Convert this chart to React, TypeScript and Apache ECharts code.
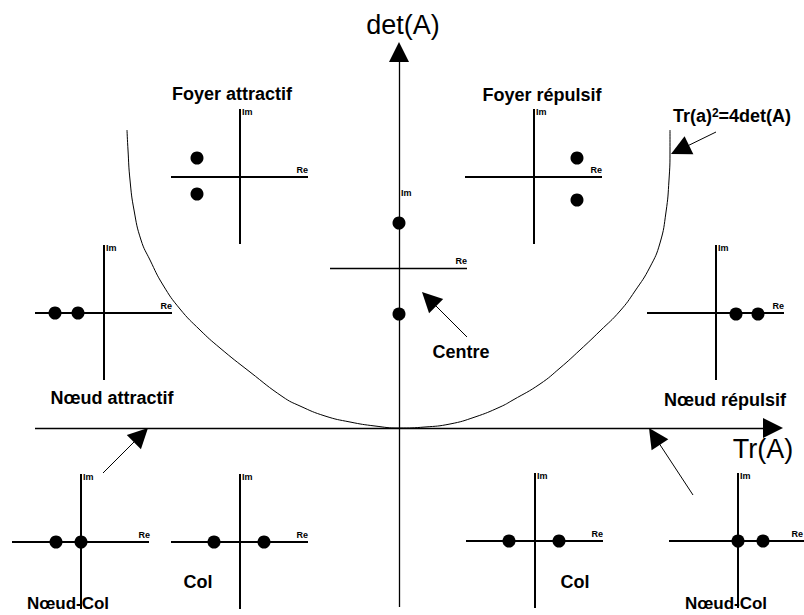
import React, { useEffect, useRef } from 'react';
import * as echarts from 'echarts';

const W = 804;
const H = 615;
const FONT = '"Liberation Sans", Arial, sans-serif';

// Regimes of the (Tr, det) plane
const regimeNames = ['Foyer attractif', 'Foyer répulsif', 'Centre', 'Nœud attractif', 'Nœud répulsif', 'Nœud-Col', 'Col', 'Col', 'Nœud-Col'];
// Eigenvalue positions in each small complex plane (Re, Im offsets from the origin)
const eigenRe = [[-43, -43], [43, 43], [0, 0], [-49, -26], [20, 42], [-25, 0], [-26, 24], [-26, 24], [0, 25]];
const eigenIm = [[19, -17], [19, -23], [45, -46], [0, 0], [-1, -1], [0, 0], [0, 0], [0, 0], [0, 0]];

// Curve Tr(A)^2 = 4 det(A) as drawn (page units)
const curveLeft = [[127, 130], [128, 150], [130, 180], [134, 210], [141, 240], [150, 260], [163, 285], [180, 309], [200, 330], [220, 348], [250, 372], [283, 397], [300, 406], [325, 416], [350, 422], [375, 426], [399, 428]];
const curveRight = [[425, 427], [450, 424], [475, 417], [500, 407], [513, 400], [540, 384], [560, 368], [580, 350], [600, 331], [620, 311], [635, 291], [650, 267], [660, 243], [666, 212], [669, 180], [670, 150], [670, 130]];

// Layout (page units)
const planeOrigin = [[240, 177], [534, 177], [399, 268], [104, 313], [716, 313], [81, 542], [240, 542], [535, 541], [738, 541]];
const reRight = [308, 602, 467, 172, 784, 150, 308, 603, 803];
const labelPos = [[232, 94], [542, 95], [461, 352], [112, 398], [725, 400], [68, 603], [198, 582], [575, 582], [726, 603]];
const labelSize = [18, 18, 18, 18, 18, 17, 18, 18, 17];
const mainAxes = [[[35, 428], [783, 428]], [[399, 607], [399, 42]]];
const pointers = [[[467, 337], [422, 292]], [[716, 132], [671, 154]], [[103, 473], [148, 428]], [[693, 495], [649, 428]]];

function shortenTo(tail: number[], tip: number[], len: number) {
  const dx = tip[0] - tail[0];
  const dy = tip[1] - tail[1];
  const d = Math.sqrt(dx * dx + dy * dy);
  return [tip[0] - (dx / d) * len, tip[1] - (dy / d) * len];
}

export default function App() {
  const ref = useRef<HTMLDivElement>(null);
  useEffect(() => {
    if (!ref.current) return;
    const chart = echarts.init(ref.current, null, { renderer: 'svg' });

    const planeLines: any[] = [];
    const centerLines: any[] = [];
    planeOrigin.forEach(([ox, oy], i) => {
      const h = { coords: [[ox - 69, oy], [ox + 68, oy]] };
      if (i === 2) {
        centerLines.push(h);
      } else {
        planeLines.push(h);
        planeLines.push({ coords: [[ox, oy - 68], [ox, oy + 67]] });
      }
    });

    const dots: number[][] = [];
    planeOrigin.forEach(([ox, oy], i) => {
      eigenRe[i].forEach((re, k) => dots.push([ox + re, oy - eigenIm[i][k]]));
    });

    const texts: any[] = [];
    planeOrigin.forEach(([ox, oy], i) => {
      texts.push({
        type: 'text', x: ox + 2, y: i === 2 ? oy - 75 : oy - 65, z: 100,
        style: { text: 'Im', fill: '#000', fontSize: 9, fontWeight: 'bold', fontFamily: FONT, align: 'left', verticalAlign: 'middle', textAlign: 'left', textVerticalAlign: 'middle' },
      });
      texts.push({
        type: 'text', x: reRight[i], y: oy - 7, z: 100,
        style: { text: 'Re', fill: '#000', fontSize: 9, fontWeight: 'bold', fontFamily: FONT, align: 'right', verticalAlign: 'middle', textAlign: 'right', textVerticalAlign: 'middle' },
      });
    });
    regimeNames.forEach((name, i) => {
      texts.push({
        type: 'text', x: labelPos[i][0], y: labelPos[i][1], z: 100,
        style: { text: name, fill: '#000', fontSize: labelSize[i], fontWeight: 'bold', fontFamily: FONT, align: 'center', verticalAlign: 'middle', textAlign: 'center', textVerticalAlign: 'middle' },
      });
    });
    texts.push({
      type: 'text', x: 732, y: 116, z: 100,
      style: {
        text: 'Tr(a){sup|2}=4det(A)', fill: '#000', fontSize: 18, fontWeight: 'bold', fontFamily: FONT,
        align: 'center', verticalAlign: 'middle', textAlign: 'center', textVerticalAlign: 'middle',
        rich: {
          sup: { fontSize: 12, fontWeight: 'bold', fontFamily: FONT, fill: '#000', verticalAlign: 'top', lineHeight: 12 },
        },
      },
    });
    texts.push({
      type: 'text', x: 403, y: 25, z: 100,
      style: { text: 'det(A)', fill: '#000', fontSize: 27, fontFamily: FONT, align: 'center', verticalAlign: 'middle', textAlign: 'center', textVerticalAlign: 'middle' },
    });
    texts.push({
      type: 'text', x: 763, y: 449, z: 100,
      style: { text: 'Tr(A)', fill: '#000', fontSize: 27, fontFamily: FONT, align: 'center', verticalAlign: 'middle', textAlign: 'center', textVerticalAlign: 'middle' },
    });

    const mainArrowLen = 20;
    const ptrArrowLen = 20;

    chart.setOption({
      animation: false,
      backgroundColor: '#fff',
      grid: { left: 0, right: 0, top: 0, bottom: 0, outerBoundsMode: 'none' },
      xAxis: { type: 'value', min: 0, max: W, show: false },
      yAxis: { type: 'value', min: 0, max: H, inverse: true, show: false },
      graphic: texts,
      series: [
        {
          type: 'line', data: [...curveLeft, ...curveRight], smooth: true, showSymbol: false, symbol: 'none',
          lineStyle: { color: '#000', width: 1 }, clip: false, silent: true,
        },
        {
          type: 'lines', coordinateSystem: 'cartesian2d', silent: true,
          data: mainAxes.map(([a, b]) => ({ coords: [a, shortenTo(a, b, mainArrowLen / 2)] })),
          symbol: ['none', 'triangle'], symbolSize: [13, mainArrowLen],
          lineStyle: { color: '#000', width: 1.3, opacity: 1 }, itemStyle: { color: '#000' },
        },
        {
          type: 'lines', coordinateSystem: 'cartesian2d', silent: true,
          data: pointers.map(([a, b]) => ({ coords: [a, shortenTo(a, b, ptrArrowLen / 2)] })),
          symbol: ['none', 'triangle'], symbolSize: [12, ptrArrowLen],
          lineStyle: { color: '#000', width: 1, opacity: 1 }, itemStyle: { color: '#000' },
        },
        {
          type: 'lines', coordinateSystem: 'cartesian2d', silent: true, data: planeLines,
          symbol: ['none', 'none'], lineStyle: { color: '#000', width: 2, opacity: 1 },
        },
        {
          type: 'lines', coordinateSystem: 'cartesian2d', silent: true, data: centerLines,
          symbol: ['none', 'none'], lineStyle: { color: '#000', width: 1.3, opacity: 1 },
        },
        {
          type: 'scatter', data: dots, symbol: 'circle', symbolSize: 13, silent: true, z: 5,
          itemStyle: { color: '#000', opacity: 1 },
        },
      ],
    });
    return () => chart.dispose();
  }, []);
  return <div ref={ref} style={{ position: 'absolute', left: 0, top: 0, width: W, height: H }} />;
}
